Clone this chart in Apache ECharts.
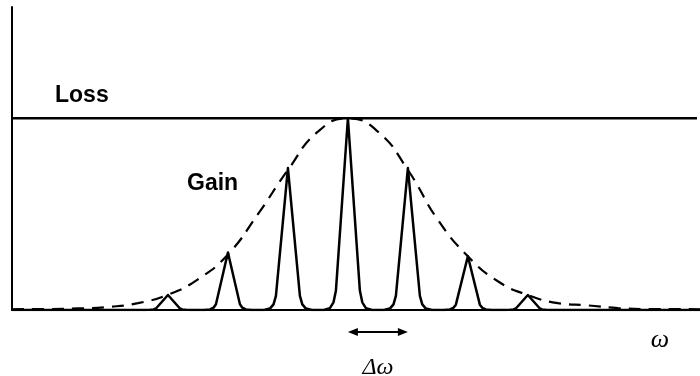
<!DOCTYPE html>
<html>
<head>
<meta charset="utf-8">
<script src="https://cdn.jsdelivr.net/npm/echarts@6/dist/echarts.min.js"></script>
<style>html,body{margin:0;padding:0;background:#fff}#c{width:700px;height:376px}</style>
</head>
<body>
<div id="c"></div>
<script>
// frequency axis in units of the mode spacing Δω (0 = gain centre); gain/loss normalised to loss = 1
var xMin = -5.6, xMax = 5.87, yMax = 1.58;
var lossLevel = 1.0;
var gainX = [-5.6,-5,-4.5,-4,-3.5,-3,-2.5,-2,-1.5,-1,-0.5,0,0.5,1,1.5,2,2.5,3,3.5,4,4.5,5,5.87];
var gainY = [0.004,0.005,0.008,0.016,0.036,0.08,0.16,0.29,0.5,0.73,0.93,1.0,0.93,0.73,0.47,0.28,0.15,0.078,0.036,0.024,0.01,0.005,0.004];
var peakX = [-3,-2,-1,0,1,2,3];
var peakH = [0.078,0.30,0.74,1.0,0.74,0.28,0.078];
var profOff = [-0.4,-0.3,-0.24,-0.2,0,0.2,0.24,0.3,0.4];
var profFrac = [0,0.01,0.04,0.1,1,0.1,0.04,0.01,0];
var labels = {loss:'Loss', gain:'Gain', omega:'ω', delta:'Δω'};

var gainData = gainX.map(function(x,i){return [x,gainY[i]];});
var modeData = [[xMin,0]];
peakX.forEach(function(c,i){
  profOff.forEach(function(o,j){ modeData.push([c+o, peakH[i]*profFrac[j]]); });
});
modeData.push([xMax,0]);

var chart = echarts.init(document.getElementById('c'));
chart.setOption({
  animation:false,
  backgroundColor:'#fff',
  grid:{left:12,right:0,top:7,bottom:66},
  xAxis:{type:'value',min:xMin,max:xMax,axisLine:{show:true,onZero:false,lineStyle:{color:'#000',width:2}},
    axisTick:{show:false},axisLabel:{show:false},splitLine:{show:false}},
  yAxis:{type:'value',min:0,max:yMax,axisLine:{show:true,onZero:false,lineStyle:{color:'#000',width:2}},
    axisTick:{show:false},axisLabel:{show:false},splitLine:{show:false}},
  series:[
    {type:'line',data:[[xMin,lossLevel],[xMax-0.05,lossLevel]],symbol:'none',lineStyle:{color:'#000',width:2.5},silent:true},
    {type:'line',data:gainData,smooth:true,symbol:'none',lineStyle:{color:'#000',width:2.2,type:[12,8]},silent:true},
    {type:'line',data:modeData,symbol:'none',lineStyle:{color:'#000',width:2.5,join:'round'},silent:true}
  ]
});

var p0 = chart.convertToPixel({gridIndex:0},[0,0]);
var p1 = chart.convertToPixel({gridIndex:0},[1,0]);
var ay = p0[1] + 22;
chart.setOption({
  graphic:[
    {type:'text',left:55,top:84,style:{text:labels.loss,font:'bold 23px "Liberation Sans", Arial, sans-serif',fill:'#000'}},
    {type:'text',left:187,top:172,style:{text:labels.gain,font:'bold 23px "Liberation Sans", Arial, sans-serif',fill:'#000'}},
    {type:'line',shape:{x1:p0[0]+6,y1:ay,x2:p1[0]-6,y2:ay},style:{stroke:'#000',lineWidth:2}},
    {type:'polygon',shape:{points:[[p0[0],ay],[p0[0]+10,ay-4],[p0[0]+10,ay+4]]},style:{fill:'#000'}},
    {type:'polygon',shape:{points:[[p1[0],ay],[p1[0]-10,ay-4],[p1[0]-10,ay+4]]},style:{fill:'#000'}},
    {type:'text',x:(p0[0]+p1[0])/2,y:ay+36,style:{text:labels.delta,font:'italic 24px "Liberation Serif", serif',fill:'#000',align:'center',verticalAlign:'middle'}},
    {type:'text',x:660,y:340,style:{text:labels.omega,font:'italic 26px "Liberation Serif", serif',fill:'#000',align:'center',verticalAlign:'middle'}}
  ]
});
</script>
</body>
</html>
